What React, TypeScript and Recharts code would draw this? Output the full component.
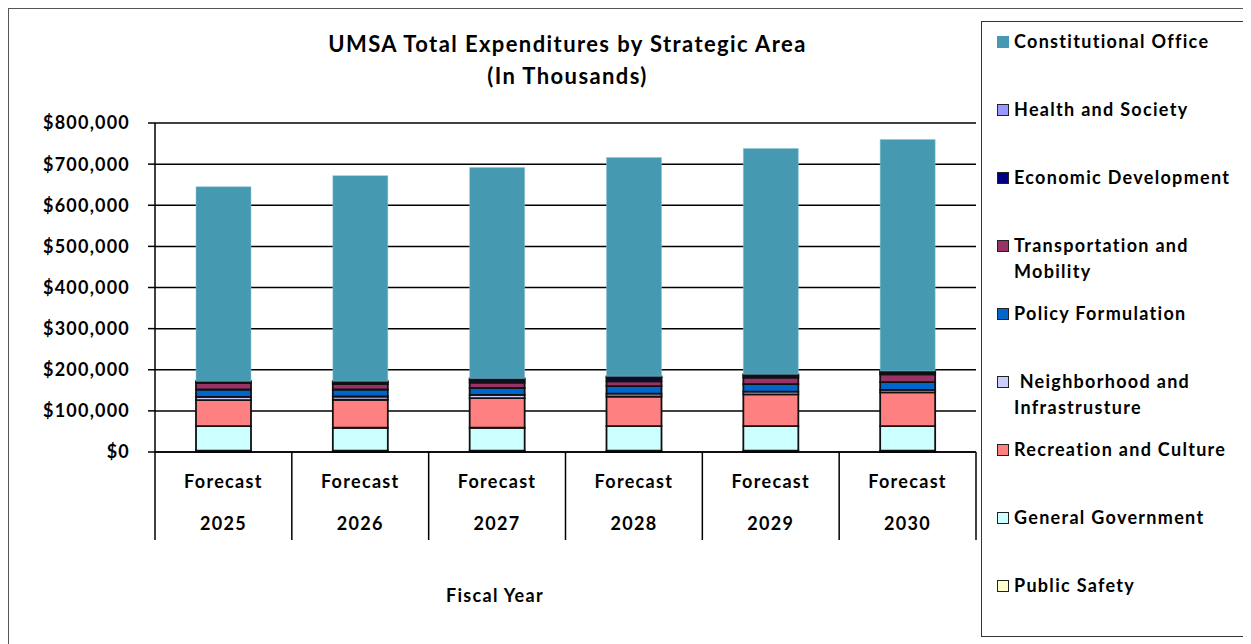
import React from 'react';
import { BarChart, Bar, XAxis, YAxis, CartesianGrid } from 'recharts';

// values in thousands of dollars
const YEARS = ['2025', '2026', '2027', '2028', '2029', '2030'];
const PERIOD = 'Forecast';
const PUBLIC_SAFETY = [3000, 3000, 3000, 3000, 3000, 3000];
const GENERAL_GOVERNMENT = [60000, 56000, 56000, 60000, 60000, 60000];
const RECREATION_CULTURE = [63000, 68000, 72000, 72000, 77000, 82000];
const NEIGHBORHOOD_INFRA = [8000, 8000, 8000, 7000, 7000, 6000];
const POLICY_FORMULATION = [18000, 17000, 17000, 18000, 18000, 19000];
const TRANSPORTATION = [16000, 13000, 13000, 12000, 16000, 19000];
const ECONOMIC_DEVELOPMENT = [2000, 5000, 7000, 9000, 5000, 5000];
const HEALTH_SOCIETY = [2000, 2000, 3000, 3000, 3000, 3000];
const CONSTITUTIONAL_OFFICE = [473000, 500000, 513000, 532000, 549000, 563000];
const Y_TICKS = [0, 100000, 200000, 300000, 400000, 500000, 600000, 700000, 800000];

const SERIES = [
    { key: 'publicSafety', name: 'Public Safety', values: PUBLIC_SAFETY, color: '#FFFFCC' },
    { key: 'generalGov', name: 'General Government', values: GENERAL_GOVERNMENT, color: '#CCFFFF' },
    { key: 'recreation', name: 'Recreation and Culture', values: RECREATION_CULTURE, color: '#FF8080' },
    { key: 'neighborhood', name: ' Neighborhood and\nInfrastrusture', values: NEIGHBORHOOD_INFRA, color: '#CCCCFF' },
    { key: 'policy', name: 'Policy Formulation', values: POLICY_FORMULATION, color: '#0066CC' },
    { key: 'transport', name: 'Transportation and\nMobility', values: TRANSPORTATION, color: '#993366' },
    { key: 'economic', name: 'Economic Development', values: ECONOMIC_DEVELOPMENT, color: '#000080' },
    { key: 'health', name: 'Health and Society', values: HEALTH_SOCIETY, color: '#9999FF' },
    { key: 'constitutional', name: 'Constitutional Office', values: CONSTITUTIONAL_OFFICE, color: '#4599B1' },
];

const data = YEARS.map((year, i) => {
    const row: any = { year };
    SERIES.forEach(s => { row[s.key] = s.values[i]; });
    return row;
});

const FONT = 'Lato, "Open Sans", sans-serif';

const FiscalTick = (props: any) => {
    const { x, y, payload, index } = props;
    const half = payload.offset || 68.4;
    const txt = { textAnchor: 'middle' as const, dominantBaseline: 'central' as const, fontSize: 18, fontWeight: 'bold', fill: '#000', fontFamily: FONT, letterSpacing: 1.3 };
    return (
        <g>
            <line x1={x - half} y1={y} x2={x - half} y2={y + 88} stroke="#000" strokeWidth={1.5} />
            {index === YEARS.length - 1 && (
                <line x1={x + half} y1={y} x2={x + half} y2={y + 88} stroke="#000" strokeWidth={1.5} />
            )}
            <text x={x} y={y + 29} {...txt}>{PERIOD}</text>
            <text x={x} y={y + 71} {...txt}>{payload.value}</text>
        </g>
    );
};

const App = () => {
    const legendItems = [...SERIES].reverse();
    return (
        <div style={{ position: 'relative', width: 1260, height: 650, border: '1px solid #555', fontFamily: FONT }}>
            <div style={{ position: 'absolute', left: 0, top: 19, width: 1117, textAlign: 'center', fontWeight: 'bold', fontSize: 22, letterSpacing: 1.4, lineHeight: '32px', color: '#000' }}>
                UMSA Total Expenditures by Strategic Area<br />(In Thousands)
            </div>
            <BarChart
                width={972}
                height={560}
                data={data}
                margin={{ top: 114, right: 5, bottom: 17, left: 0 }}
                barSize={55}
                style={{ position: 'absolute', left: 0, top: 0 }}
            >
                <CartesianGrid vertical={false} stroke="#000" strokeWidth={1.5} />
                <XAxis
                    dataKey="year"
                    height={100}
                    tick={<FiscalTick />}
                    tickLine={false}
                    tickSize={0}
                    tickMargin={0}
                    axisLine={{ stroke: '#000', strokeWidth: 1.5 }}
                    interval={0}
                />
                <YAxis
                    width={146}
                    domain={[0, 800000]}
                    ticks={Y_TICKS}
                    tickFormatter={(v: number) => `$${v.toLocaleString('en-US')}`}
                    tick={{ fill: '#000', fontSize: 18, fontWeight: 'bold', fontFamily: FONT, letterSpacing: 1.2 }}
                    tickSize={7}
                    tickMargin={18}
                    tickLine={{ stroke: '#000', strokeWidth: 1.5 }}
                    axisLine={{ stroke: '#000', strokeWidth: 1.5 }}
                />
                <YAxis yAxisId="frame" orientation="right" width={0} tick={false} tickLine={false} axisLine={{ stroke: '#000', strokeWidth: 1.5 }} />
                {SERIES.map(s => (
                    <Bar
                        key={s.key}
                        dataKey={s.key}
                        name={s.name}
                        stackId="total"
                        fill={s.color}
                        stroke={s.key === 'constitutional' ? '#8cc3d2' : '#111'}
                        strokeWidth={s.key === 'constitutional' ? 0.5 : 1.8}
                        isAnimationActive={false}
                    />
                ))}
            </BarChart>
            <div style={{ position: 'absolute', left: 437, top: 575, fontWeight: 'bold', fontSize: 18, letterSpacing: 1.3, color: '#000' }}>
                Fiscal Year
            </div>
            <div style={{ position: 'absolute', left: 972, top: 12, width: 290, height: 614, border: '1.5px solid #333' }}>
                {legendItems.map((s, i) => (
                    <div key={s.key} style={{ position: 'absolute', left: 15, top: 6 + 68 * i, display: 'flex', alignItems: 'flex-start' }}>
                        <div style={{
                            width: 10,
                            height: 10,
                            marginTop: 8,
                            marginRight: 5,
                            background: s.color,
                            border: s.key === 'constitutional' ? '1px solid transparent' : '1.5px solid #222',
                        }} />
                        <div style={{ whiteSpace: 'pre', fontWeight: 'bold', fontSize: 18, letterSpacing: 1.3, lineHeight: '26px', color: '#000' }}>
                            {s.name}
                        </div>
                    </div>
                ))}
            </div>
        </div>
    );
};

export default App;
